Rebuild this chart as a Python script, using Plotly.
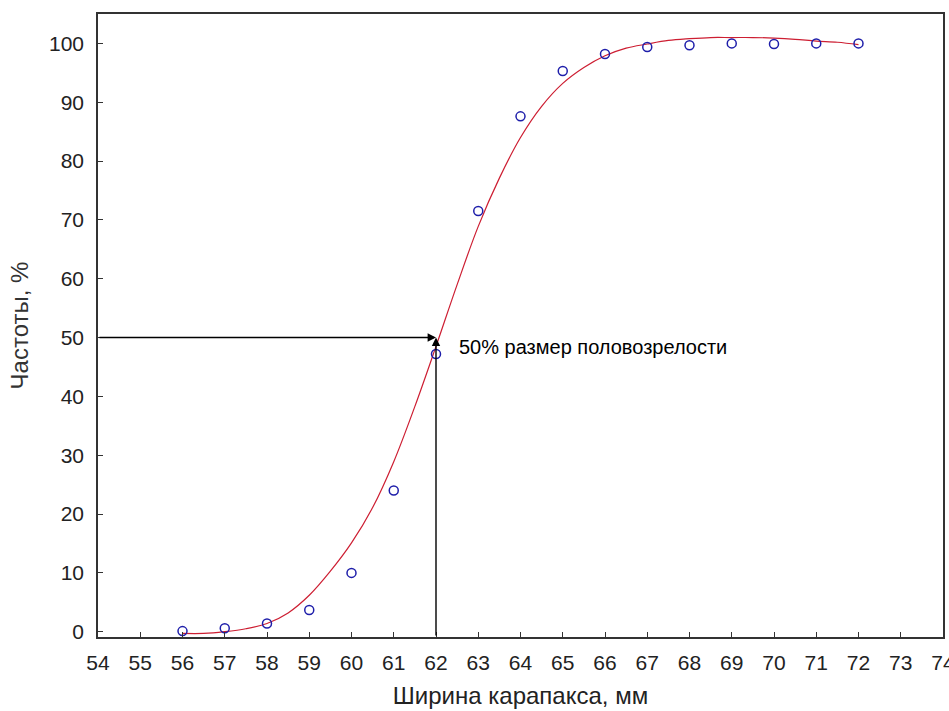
import plotly.graph_objects as go

# observed data points
obs_x = [56, 57, 58, 59, 60, 61, 62, 63, 64, 65, 66, 67, 68, 69, 70, 71, 72]
obs_y = [0.1, 0.6, 1.4, 3.7, 10.0, 24.0, 47.2, 71.5, 87.6, 95.3, 98.2, 99.4, 99.7, 100.0, 99.9, 100.0, 100.0]

# fitted curve
fit_x = [56.0, 56.5, 57.0, 57.5, 58.0, 58.5, 59.0, 59.5, 60.0, 60.5, 61.0, 61.5, 62.0,
         62.5, 63.0, 63.5, 64.0, 64.5, 65.0, 65.5, 66.0, 66.5, 67.0, 67.5, 68.0, 68.5,
         69.0, 69.5, 70.0, 70.5, 71.0, 71.5, 72.0]
fit_y = [-0.3, -0.3, 0.0, 0.5, 1.4, 3.2, 6.2, 10.3, 15.1, 21.1, 28.9, 38.3, 48.5,
         59.0, 68.9, 77.1, 84.0, 89.3, 93.2, 95.9, 97.9, 99.2, 99.9, 100.5, 100.8, 101.0,
         101.0, 101.0, 100.9, 100.7, 100.4, 100.2, 99.8]

x_ticks = list(range(54, 75))
y_ticks = list(range(0, 101, 10))

half_x = 62
half_y = 50
label_text = "50% размер половозрелости"
x_title = "Ширина карапакса, мм"
y_title = "Частоты, %"

FONT = "Liberation Sans Narrow, Arial Narrow, Arial, Liberation Sans, sans-serif"

fig = go.Figure()
fig.add_trace(go.Scatter(x=fit_x, y=fit_y, mode="lines",
                         line=dict(color="rgb(205,30,50)", width=1.2),
                         line_shape="spline", line_smoothing=1.0, showlegend=False))
fig.add_trace(go.Scatter(x=obs_x, y=obs_y, mode="markers",
                         marker=dict(symbol="circle-open", size=9,
                                     color="rgb(30,30,170)", line=dict(width=1.5)),
                         showlegend=False))

fig.add_annotation(x=half_x, y=half_y, ax=54, ay=half_y, axref="x", ayref="y",
                   xref="x", yref="y", text="", showarrow=True, arrowhead=2,
                   arrowsize=1.2, arrowwidth=1.4, arrowcolor="black")
fig.add_annotation(x=half_x, y=half_y, ax=half_x, ay=-0.9, axref="x", ayref="y",
                   xref="x", yref="y", text="", showarrow=True, arrowhead=2,
                   arrowsize=1.2, arrowwidth=1.4, arrowcolor="black")
fig.add_annotation(x=62.5, y=48.4, xref="x", yref="y", text=label_text,
                   showarrow=False, xanchor="left", yanchor="middle",
                   font=dict(family=FONT, size=20, color="black"))

axis_common = dict(showgrid=False, zeroline=False, showline=True, linecolor="#333",
                   linewidth=1.5, mirror=True, ticks="inside", ticklen=5,
                   tickwidth=1.3, tickcolor="#333", ticklabeloverflow="allow",
                   automargin=False,
                   tickfont=dict(family=FONT, size=21, color="#222"))

fig.update_xaxes(range=[54, 74], tickvals=x_ticks, ticktext=[str(v) for v in x_ticks],
                 ticklabelstandoff=6,
                 title=dict(text=x_title, standoff=14,
                            font=dict(family=FONT, size=24, color="#222")),
                 **axis_common)
fig.update_yaxes(range=[-0.9, 105], tickvals=y_ticks, ticktext=[str(v) for v in y_ticks],
                 ticklabelstandoff=8,
                 title=dict(text=y_title, standoff=14,
                            font=dict(family=FONT, size=24, color="#333")),
                 **axis_common)

fig.update_layout(width=949, height=711, margin=dict(l=98, r=6, t=14, b=74),
                  paper_bgcolor="white", plot_bgcolor="white")

fig.write_html("out.html")
